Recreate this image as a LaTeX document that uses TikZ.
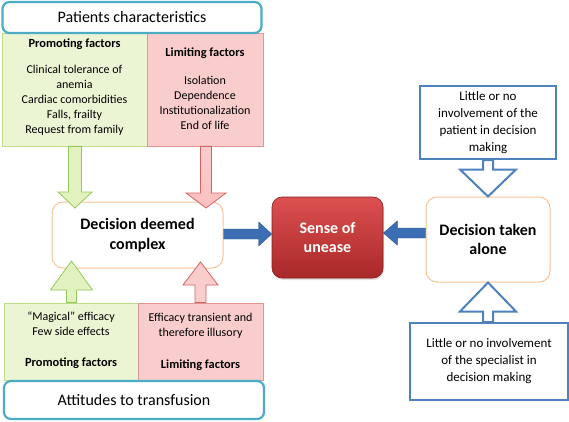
\documentclass[tikz,border=0pt]{standalone}
\usepackage{fontspec}
\setmainfont{Carlito}
\usetikzlibrary{calc,shadows}
\definecolor{cyanb}{RGB}{75,172,198}
\definecolor{grfill}{RGB}{235,245,212}
\definecolor{grline}{RGB}{190,220,140}
\definecolor{gralin}{RGB}{150,200,90}
\definecolor{grafil}{RGB}{225,242,190}
\definecolor{rdfill}{RGB}{250,205,205}
\definecolor{rdline}{RGB}{225,150,150}
\definecolor{rdalin}{RGB}{210,100,100}
\definecolor{orb}{RGB}{250,195,150}
\definecolor{blb}{RGB}{79,129,189}
\definecolor{blarrow}{RGB}{60,110,180}
\definecolor{sutop}{RGB}{220,80,80}
\definecolor{subot}{RGB}{170,40,40}
% vertical block arrow: style, start, tip, shaft half-width, head half-width, head length
\newcommand\vblockarrow[6]{%
  \path[#1] let \p1=(#2), \p2=(#3), \n1={sign(\y2-\y1)} in
    ({\x2-#4},\y1) -- ({\x2-#4},{\y2-(\n1)*(#6)}) -- ({\x2-#5},{\y2-(\n1)*(#6)}) -- (\x2,\y2)
    -- ({\x2+#5},{\y2-(\n1)*(#6)}) -- ({\x2+#4},{\y2-(\n1)*(#6)}) -- ({\x2+#4},\y1) -- cycle;}
\newcommand\hblockarrow[6]{%
  \path[#1] let \p1=(#2), \p2=(#3), \n1={sign(\x2-\x1)} in
    (\x1,{\y2-#4}) -- ({\x2-(\n1)*(#6)},{\y2-#4}) -- ({\x2-(\n1)*(#6)},{\y2-#5}) -- (\x2,\y2)
    -- ({\x2-(\n1)*(#6)},{\y2+#5}) -- ({\x2-(\n1)*(#6)},{\y2+#4}) -- (\x1,{\y2+#4}) -- cycle;}
\begin{document}
\begin{tikzpicture}[x=1pt,y=-1pt,
  hdr/.style={draw=cyanb, line width=2.2pt, rounded corners=7pt, fill=white,
    font=\fontsize{16}{19}\selectfont},
  grbox/.style={draw=grline, line width=0.8pt, fill=grfill},
  rdbox/.style={draw=rdline, line width=0.8pt, fill=rdfill},
  txt/.style={align=center, font=\fontsize{12}{15}\selectfont, inner sep=0pt},
  btxt/.style={align=center, font=\fontsize{12.4}{15}\selectfont\bfseries, inner sep=0pt},
  decbox/.style={draw=orb, line width=1pt, rounded corners=11pt, fill=white,
    align=center, font=\fontsize{16}{19.5}\selectfont\bfseries},
  bluebox/.style={draw=blb, line width=2pt, fill=white, align=center,
    font=\fontsize{13}{17}\selectfont},
  grarrow/.style={draw=gralin, line width=0.8pt, fill=grafil, line join=miter},
  rdarrow/.style={draw=rdalin, line width=0.8pt, top color=rdfill, bottom color=rdfill!80!red!70, line join=miter},
  rduparrow/.style={draw=rdalin, line width=0.8pt, fill=rdfill, line join=miter},
  blarr/.style={fill=blarrow, draw=blarrow!80!black, line width=0.4pt},
  bloutarr/.style={draw=blb, line width=2pt, fill=white, line join=miter},
]
\useasboundingbox (0,0) rectangle (569,422);

% top-left group
\node[grbox, minimum width=145, minimum height=113] (pg) at (74.5,89.5) {};
\node[rdbox, minimum width=116, minimum height=113] (pl) at (205,89.5) {};
\node[hdr, minimum width=259, minimum height=31] (pc) at (132,17.5) {Patients characteristics};
\node[btxt] (pgt) at (74.5,44) {Promoting factors};
\node[txt, anchor=north] (pgl) at (74.5,65) {Clinical tolerance of\\anemia\\Cardiac comorbidities\\Falls, frailty\\Request from family};
\node[btxt] (plt) at (205,53) {Limiting factors};
\node[txt, anchor=north] (pll) at (205,76) {Isolation\\Dependence\\Institutionalization\\End of life};

% decision deemed complex
\node[decbox, minimum width=171, minimum height=66] (dc) at (137.5,235) {Decision deemed\\complex};

% bottom-left group
\node[grbox, minimum width=134, minimum height=77] (bg) at (71,341.5) {};
\node[rdbox, minimum width=125, minimum height=77] (bl) at (200.5,341.5) {};
\node[hdr, minimum width=260, minimum height=38] (at) at (134,400) {Attitudes to transfusion};
\node[txt, anchor=north] (bgl) at (71,312) {“Magical” efficacy\\Few side effects};
\node[btxt] (bgt) at (71,363) {Promoting factors};
\node[txt, anchor=north] (bll) at (200.5,313) {Efficacy transient and\\therefore illusory};
\node[btxt] (blt) at (200.5,365) {Limiting factors};

% sense of unease
\node[draw=subot!80!black, line width=0.6pt, rounded corners=10pt, top color=sutop, bottom color=subot,
  drop shadow={opacity=0.25, shadow xshift=1pt, shadow yshift=-2pt},
  minimum width=111, minimum height=81, text=white, align=center,
  font=\fontsize{16}{19.5}\selectfont\bfseries] (su) at (327.5,237.5) {Sense of\\unease};

% decision taken alone
\node[decbox, minimum width=124, minimum height=85] (da) at (488,239.5) {Decision taken\\alone};

% blue boxes
\node[bluebox, minimum width=136, minimum height=73] (bt) at (488,122.5) {Little or no\\involvement of the\\patient in decision\\making};
\node[bluebox, minimum width=158, minimum height=77] (bb) at (489,361.5) {Little or no involvement\\of the specialist in\\decision making};

% arrow anchor points
\coordinate (g1s) at (74.5,146);
\coordinate (g1e) at (75,208);
\coordinate (r1s) at (206,146);
\coordinate (r1e) at (206,208);
\coordinate (g2s) at (71.5,303);
\coordinate (g2e) at (71.5,261);
\coordinate (r2s) at (200.5,303);
\coordinate (r2e) at (200.5,262);
\coordinate (b1s) at (223,234);
\coordinate (b1e) at (272,234);
\coordinate (b2s) at (426,233);
\coordinate (b2e) at (383,233);
\coordinate (b3e) at (488,197);
\coordinate (b4e) at (488,282);

\vblockarrow{grarrow}{pg.south -| g1s}{g1e}{6.5pt}{17pt}{16pt}
\vblockarrow{rdarrow}{pl.south -| r1s}{r1e}{5.5pt}{20pt}{15pt}
\vblockarrow{grarrow}{bg.north -| g2s}{g2e}{5pt}{21pt}{29pt}
\vblockarrow{rduparrow}{bl.north -| r2s}{r2e}{5.5pt}{17.5pt}{23pt}
\hblockarrow{blarr}{dc.east |- b1s}{su.west |- b1e}{5pt}{12pt}{13pt}
\hblockarrow{blarr}{da.west |- b2s}{su.east |- b2e}{5pt}{12pt}{14pt}
\vblockarrow{bloutarr}{bt.south -| b3e}{da.north -| b3e}{5pt}{28pt}{27pt}
\vblockarrow{bloutarr}{bb.north -| b4e}{da.south -| b4e}{5pt}{28pt}{29pt}
\end{tikzpicture}
\end{document}
